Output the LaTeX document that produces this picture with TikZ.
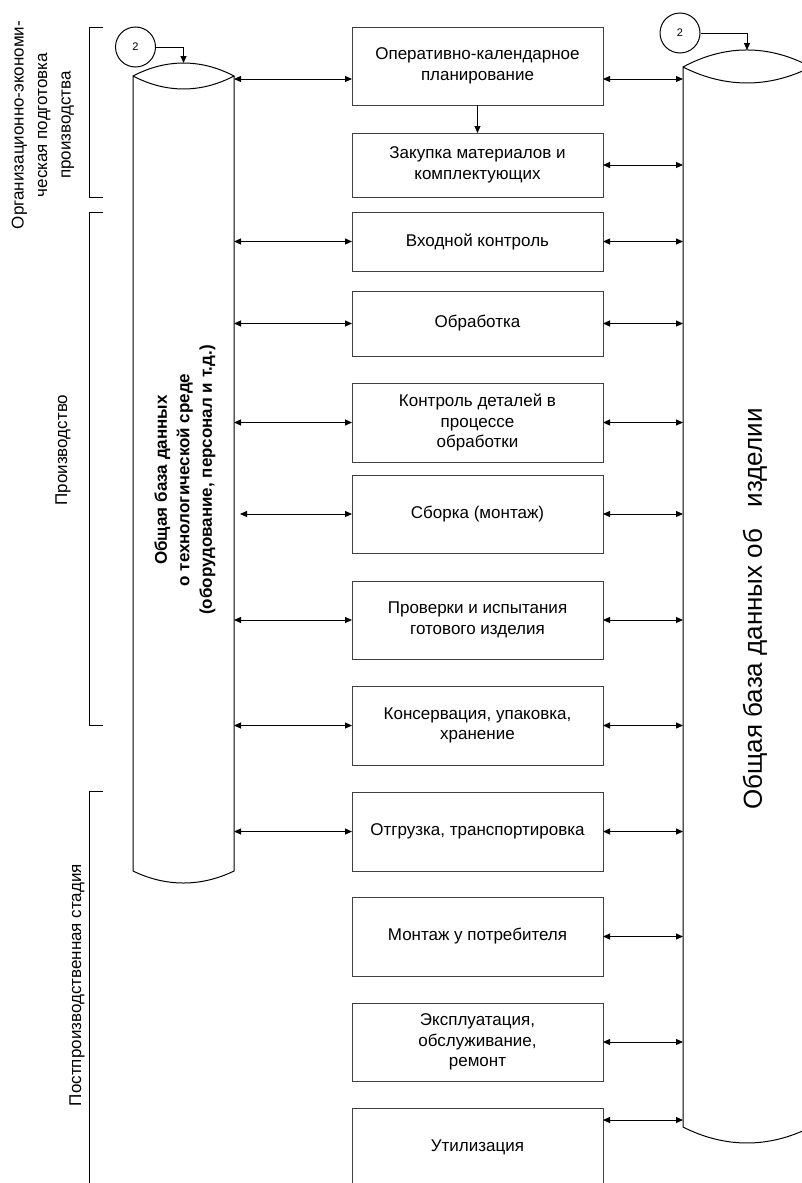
\documentclass[tikz,border=0pt]{standalone}
\usepackage{fontspec}
\setmainfont{Liberation Sans}
\usetikzlibrary{
    arrows.meta,
    calc,
    positioning
}
\tikzset{
    every picture/.style = {
        > = {Stealth[length=7pt, width=6pt, inset=0pt]},
        line width = 1pt
    },
    stage/.style = {
        draw = black!75,
        minimum width = 251pt,
        minimum height = 78pt,
        inner sep = 1pt,
        outer sep = 0pt,
        align = center,
        font = \fontsize{17}{20.5}\selectfont
    },
    ref/.style = {
        draw,
        circle,
        minimum size = 40pt,
        inner sep = 0pt,
        font = \fontsize{11}{13}\selectfont
    },
    phase/.style = {
        rotate = 90,
        align = center,
        font = \fontsize{17}{23.5}\selectfont
    },
    store/.style = {
        inner sep = 0pt,
        outer sep = 0pt
    },
    link/.style = {<->}
}

\begin{document}
\begin{tikzpicture}[
                        x = 1pt,
                        y = -1pt,
                        node distance = 27pt
                    ]
    \useasboundingbox (0,0) rectangle (802,1183);

    % stages
    \node[stage] (b1) at (477.5,66) {Оперативно-календарное\\планирование};
    \node[stage, minimum height = 64pt] (b2) [below = 28pt of b1] {Закупка материалов и\\комплектующих};
    \node[stage, minimum height = 59pt] (b3) [below = 15pt of b2] {Входной контроль};
    \node[stage, minimum height = 65pt] (b4) [below = 20pt of b3] {Обработка};
    \node[stage, minimum height = 79pt] (b5) [below = of b4] {Контроль деталей в\\процессе\\обработки};
    \node[stage] (b6) [below = 13pt of b5] {Сборка (монтаж)};
    \node[stage] (b7) [below = 28pt of b6] {Проверки и испытания\\готового изделия};
    \node[stage, minimum height = 79pt] (b8) [below = of b7] {Консервация, упаковка,\\хранение};
    \node[stage, minimum height = 79pt] (b9) [below = of b8] {Отгрузка, транспортировка};
    \node[stage, minimum height = 79pt] (b10) [below = 26pt of b9] {Монтаж у потребителя};
    \node[stage] (b11) [below = of b10] {Эксплуатация,\\обслуживание,\\ремонт};
    \node[stage] (b12) [below = of b11] {Утилизация};

    % data stores
    \node[store, minimum width = 101pt, minimum height = 795pt] (dbL) at (183.5,473.5) {};
    \node[store, minimum width = 128pt, minimum height = 1060pt] (dbR) at (747,597) {};

    \draw (dbL.north west) .. controls +(33,-17.3) and +(-33,-17.3) .. (dbL.north east)
          .. controls +(-33,17.3) and +(33,17.3) .. (dbL.north west)
          -- (dbL.south west) .. controls +(33,16) and +(-33,16) .. (dbL.south east)
          -- (dbL.north east);
    \draw (dbR.north west) .. controls +(42,-22.7) and +(-42,-22.7) .. (dbR.north east)
          .. controls +(-42,21.3) and +(42,21.3) .. (dbR.north west)
          -- (dbR.south west) .. controls +(42,21.3) and +(-42,21.3) .. (dbR.south east)
          -- (dbR.north east);

    \node[rotate = 90, align = center, font = \bfseries\fontsize{17}{22.5}\selectfont] (dbLtext) at (185,480)
        {Общая база данных\\о технологической среде\\(оборудование, персонал и т.д.)};
    \node[rotate = 90, font = \fontsize{26}{30}\selectfont] (dbRtext) at (755,609)
        {Общая база данных об~~~изделии};

    % phases
    \node[phase] (ph1) at (43,125) {Организационно-экономи-\\ческая подготовка\\производства};
    \node[phase] (ph2) at (63,450) {Производство};
    \node[phase] (ph3) at (77,985) {Постпроизводственная стадия};

    \draw (103,27) -- (89,27) -- (89,197) -- (103,197);
    \draw (103,212) -- (89,212) -- (89,725) -- (103,725);
    \draw (103,791) -- (89,791) -- (89,1200);

    % references
    \node[ref] (r1) at (135.5,47) {2};
    \node[ref] (r2) at (680,33) {2};
    \coordinate (dbLtop) at ($(dbL.north)+(0,-13)$);
    \coordinate (dbRtop) at ($(dbR.north)+(0,-17)$);
    \draw[->] (r1) -| (dbLtop);
    \draw[->] (r2) -| (dbRtop);

    % links
    \coordinate (k1) at ([yshift=-13pt]b1.center);
    \coordinate (k12) at ([yshift=27pt]b12.center);
    \draw[->] (b1) -- (b2);
    \draw[link] (dbL.east |- k1) -- (b1.west |- k1);
    \draw[link] (b1.east |- k1) -- (dbR.west |- k1);
    \foreach \b in {b3,b4,b5,b7,b8,b9}
        \draw[link] (dbL.east |- \b) -- (\b.west);
    \draw[link] ([xshift=6pt]dbL.east |- b6) -- (b6.west);
    \foreach \b in {b2,b3,b4,b5,b6,b7,b8,b9,b10,b11}
        \draw[link] (\b.east) -- (dbR.west |- \b);
    \draw[link] (b12.east |- k12) -- (dbR.west |- k12);
\end{tikzpicture}
\end{document}
